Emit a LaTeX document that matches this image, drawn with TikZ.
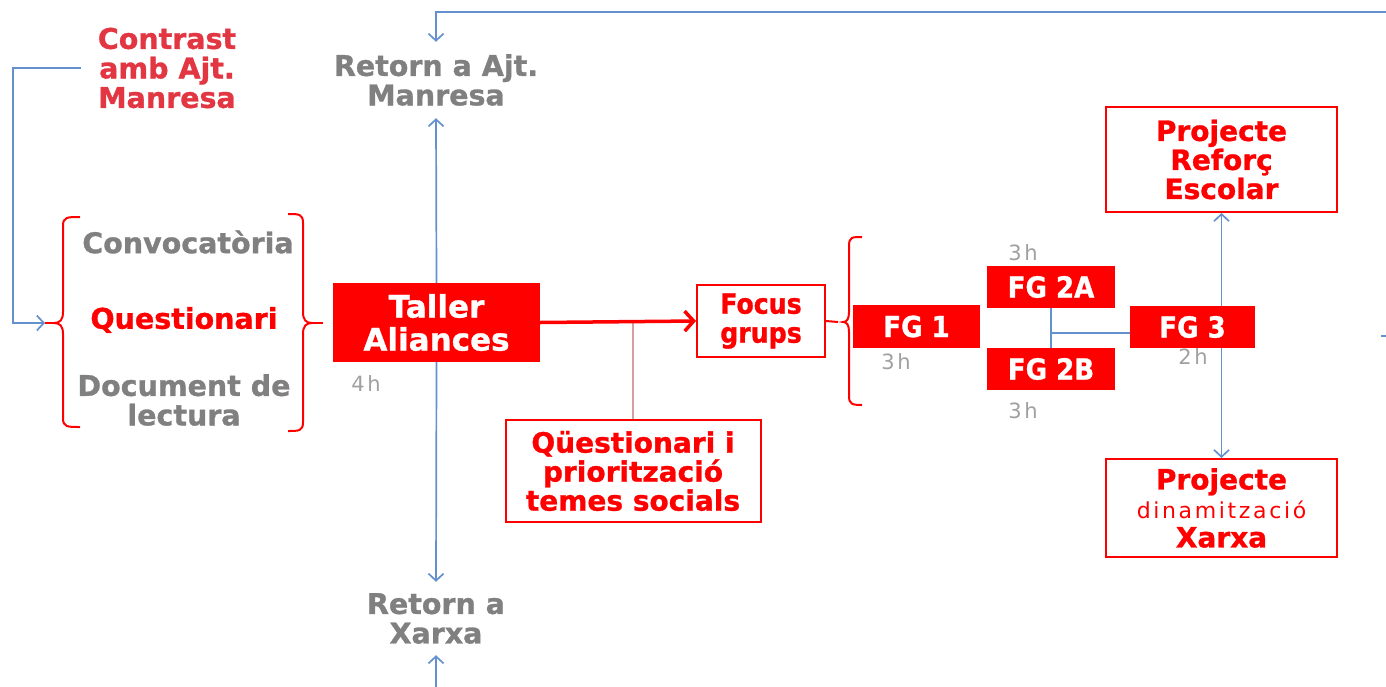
\documentclass[tikz,border=0pt]{standalone}
\usepackage{fontspec}
\setmainfont{DejaVu Sans}
\newfontfamily\hb{DejaVu Sans Bold}[FakeBold=1]
\newfontfamily\hc{DejaVu Sans Condensed Bold}[FakeBold=1]
\newfontfamily\lsp{DejaVu Sans}[LetterSpace=12]
\usetikzlibrary{arrows.meta}
\definecolor{rd}{RGB}{255,0,0}
\definecolor{crd}{RGB}{226,54,66}
\definecolor{gr}{RGB}{128,128,128}
\definecolor{hg}{RGB}{160,160,160}
\definecolor{bl}{RGB}{100,145,205}
\definecolor{pk}{RGB}{215,160,160}
\tikzset{
  lbl/.style={inner sep=0pt, align=center, font=\hb\fontsize{28.5}{29.5}\selectfont},
  glbl/.style={lbl, text=gr},
  fbox/.style={fill=rd, text=white, inner sep=0pt, font=\hc\fontsize{29}{29}\selectfont},
  obox/.style={draw=rd, line width=2pt, fill=white, text=rd, inner sep=0pt, align=center, font=\hb\fontsize{28}{29}\selectfont},
  hrs/.style={text=hg, inner sep=0pt, font=\lsp\fontsize{21}{21}\selectfont},
  bline/.style={draw=bl, line width=1.7pt},
  barr/.style={bline, -{Straight Barb[length=7pt,width=15pt]}},
  rline/.style={draw=rd, line width=2.5pt},
  rarr/.style={draw=rd, line width=3.5pt, -{Straight Barb[length=9pt,width=20pt]}}
}
\begin{document}
\begin{tikzpicture}[x=1pt,y=-1pt]
\useasboundingbox (0,0) rectangle (1386,686);
% nodes
\node[lbl, text=crd] (contrast) at (167,68) {Contrast\\amb Ajt.\\Manresa};
\node[glbl, minimum height=76pt] (retajt) at (436,80) {Retorn a Ajt.\\Manresa};
\node[glbl] (conv) at (188,242) {Convocatòria};
\node[lbl, text=rd] (quest) at (184,320) {Questionari};
\node[glbl] (doc) at (184,400) {Document de\\lectura};
\node[fill=rd, text=white, inner sep=0pt, minimum width=207pt, minimum height=79pt, align=center, font=\hb\fontsize{31}{33}\selectfont] (taller) at (436.5,322.5) {Taller\\Aliances};
\node[hrs] (h4) at (366,384) {4h};
\node[obox, minimum width=255pt, minimum height=102pt] (qp) at (633,471) {Qüestionari i\\priorització\\temes socials};
\node[obox, minimum width=128pt, minimum height=72pt, font=\hc\fontsize{28}{29}\selectfont] (focus) at (761,321) {Focus\\grups};
\node[fbox, minimum width=127pt, minimum height=43pt] (fg1) at (916.5,326.5) {FG 1};
\node[fbox, minimum width=128pt, minimum height=42pt] (fg2a) at (1051,287) {FG 2A};
\node[fbox, minimum width=128pt, minimum height=42pt] (fg2b) at (1051,369) {FG 2B};
\node[fbox, minimum width=125pt, minimum height=42pt] (fg3) at (1192.5,327) {FG 3};
\node[hrs] (h1) at (896,362) {3h};
\node[hrs] (h2a) at (1023,253) {3h};
\node[hrs] (h2b) at (1023,411) {3h};
\node[hrs] (h3) at (1193,357) {2h};
\node[obox, minimum width=231pt, minimum height=105pt] (reforc) at (1221.5,159.5) {Projecte\\Reforç\\Escolar};
\node[obox, minimum width=231pt, minimum height=98pt] (dinam) at (1221.5,508) {Projecte\\{\lsp\fontsize{22}{29}\selectfont dinamització}\\Xarxa};
\node[glbl, minimum height=73pt] (retx) at (436,618.5) {Retorn a\\Xarxa};
% coordinates
\coordinate (topR) at (1386,12);
\coordinate (botR) at (1386,687.4);
\coordinate (loopc) at (13,68);
\coordinate (lbtip) at (45,323);
\coordinate (rbend) at (323,323);
\coordinate (bbtip) at (838,322);
\coordinate (rt1) at (1381,336);
\coordinate (rt2) at (1386,336);
% left bracket
\draw[rline, line width=2pt] (80,217) .. controls (67,217) and (63,217) .. (63,226) -- (63,312)
  .. controls (63,320) and (60,323) .. (54,323)
  .. controls (60,323) and (63,326) .. (63,334) -- (63,418)
  .. controls (63,427) and (67,427) .. (80,427);
\draw[rline, line width=2pt] (54,323) -- (lbtip);
% right bracket
\draw[rline, line width=2pt] (288,214) .. controls (299,214) and (303,214) .. (303,223) -- (303,312)
  .. controls (303,320) and (306,323) .. (312,323)
  .. controls (306,323) and (303,326) .. (303,334) -- (303,422)
  .. controls (303,431) and (299,431) .. (288,431);
\draw[rline, line width=2pt] (312,323) -- (rbend);
% big bracket
\draw[rline, line width=2pt] (862,237) .. controls (852,237) and (849,237) .. (849,246) -- (849,312)
  .. controls (849,319) and (847,322) .. (843,322)
  .. controls (847,322) and (849,325) .. (849,332) -- (849,396)
  .. controls (849,404) and (852,405) .. (862,405);
\draw[rline, line width=2pt] (focus.east) -- (bbtip);
% blue connectors
\draw[barr] ([xshift=-17pt]contrast.west) -- (loopc) |- (lbtip);
\draw[barr] (taller.north) -- (retajt.south);
\draw[barr] (taller.south) -- (retx.north);
\draw[barr] (topR) -| (retajt.north);
\draw[barr] (botR) -| (retx.south);
\draw[bline] (fg2a.south) -- (fg2b.north);
\draw[bline] ([yshift=-6pt]fg3.west -| fg2a.south) -- ([yshift=-6pt]fg3.west);
\draw[barr] (fg3.north -| reforc.south) -- (reforc.south);
\draw[barr] (fg3.south -| dinam.north) -- (dinam.north);
\draw[bline] (rt1) -- (rt2);
% red
\draw[draw=pk, line width=2pt] (qp.north) -- (qp.north |- taller.east);
\draw[rarr] (taller.east) -- (focus.west);
\end{tikzpicture}
\end{document}
